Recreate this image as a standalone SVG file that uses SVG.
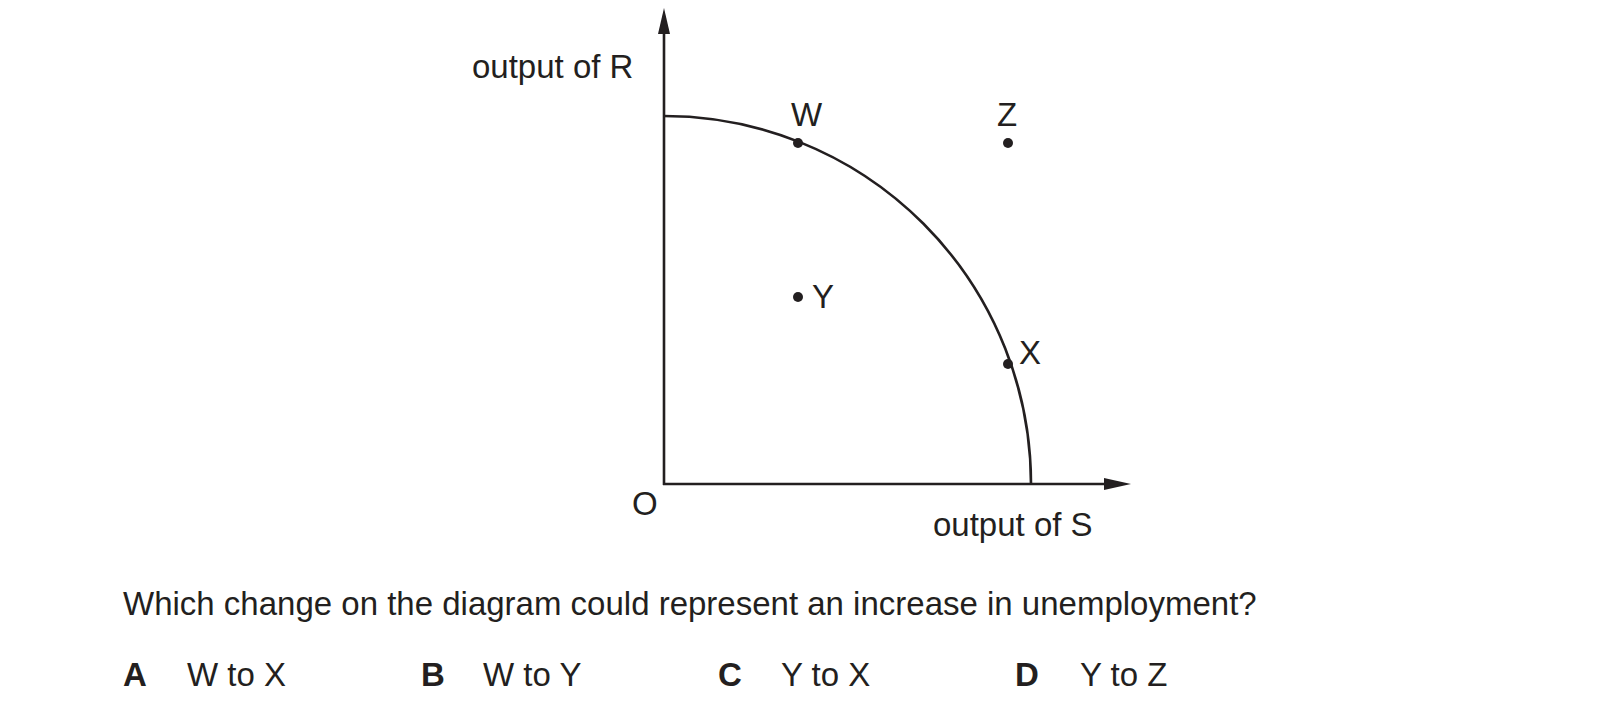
<svg xmlns="http://www.w3.org/2000/svg" width="1605" height="712" viewBox="0 0 1605 712">
<style>text{font-family:"Liberation Sans",Arial,sans-serif;font-size:33px;fill:#231f20}.b{font-weight:bold}line,path{stroke:#231f20;stroke-width:2.6;fill:none}</style>
<rect width="1605" height="712" fill="#fff"/>
<g id="connectors">
<line x1="664" y1="485" x2="664" y2="32"/>
<polygon points="664,8 658,34 670,34" fill="#231f20"/>
<line x1="663" y1="484" x2="1105" y2="484"/>
<polygon points="1131,484 1104,478 1104,490" fill="#231f20"/>
<path d="M664,116 A367,368 0 0 1 1031,484"/>
</g>
<g id="W"><circle cx="798" cy="143" r="5" fill="#231f20"/><text x="791" y="126">W</text></g>
<g id="Z"><circle cx="1008" cy="143" r="5" fill="#231f20"/><text x="997" y="126">Z</text></g>
<g id="Y"><circle cx="798" cy="297" r="5" fill="#231f20"/><text x="812" y="308">Y</text></g>
<g id="X"><circle cx="1008" cy="364" r="5" fill="#231f20"/><text x="1019" y="364">X</text></g>
<text x="472" y="78">output of R</text>
<text x="933" y="536">output of S</text>
<text x="632" y="515">O</text>
<text x="123" y="615">Which change on the diagram could represent an increase in unemployment?</text>
<text class="b" x="123" y="686">A</text><text x="187" y="686">W to X</text>
<text class="b" x="421" y="686">B</text><text x="483" y="686">W to Y</text>
<text class="b" x="718" y="686">C</text><text x="781" y="686">Y to X</text>
<text class="b" x="1015" y="686">D</text><text x="1080" y="686">Y to Z</text>
</svg>
